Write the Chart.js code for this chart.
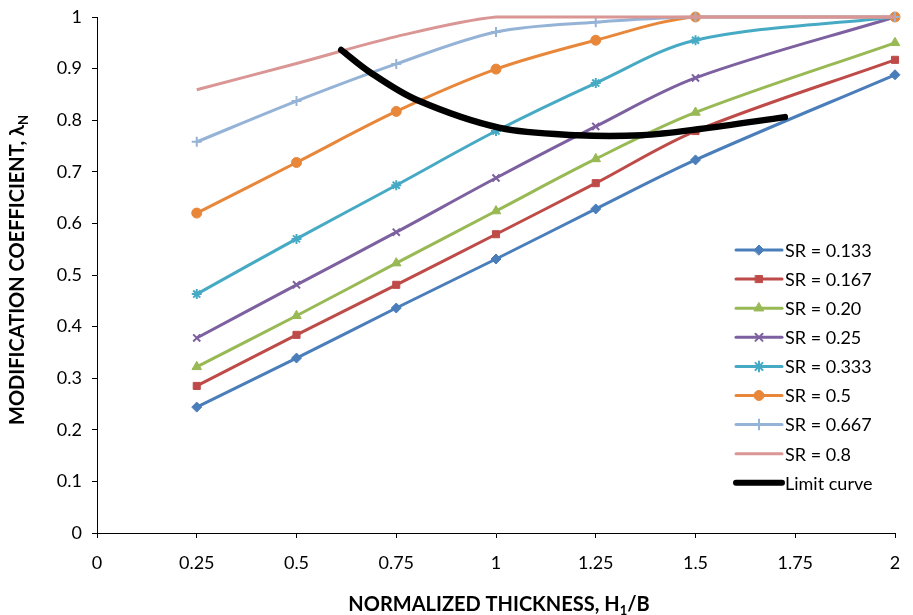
<!DOCTYPE html>
<html>
<head>
<meta charset="utf-8">
<script src="https://cdn.jsdelivr.net/npm/chart.js@4.4.0/dist/chart.umd.min.js"></script>
<style>
  html, body { margin: 0; padding: 0; background: #ffffff; }
  #wrap { width: 913px; height: 615px; }
</style>
</head>
<body>
<div id="wrap"><canvas id="c" width="913" height="615"></canvas></div>
<script>
// Normalized thickness H1/B at which each curve was evaluated
const thickness = [0.25, 0.5, 0.75, 1, 1.25, 1.5, 2];

// Modification coefficient for each stiffness ratio
const sr0133 = [0.244, 0.339, 0.436, 0.531, 0.628, 0.723, 0.888];
const sr0167 = [0.285, 0.384, 0.481, 0.579, 0.678, 0.779, 0.917];
const sr020  = [0.322, 0.421, 0.523, 0.624, 0.725, 0.815, 0.950];
const sr025  = [0.378, 0.481, 0.583, 0.688, 0.788, 0.882, 1.000];
const sr0333 = [0.463, 0.570, 0.674, 0.779, 0.872, 0.955, 1.000];
const sr05   = [0.620, 0.718, 0.817, 0.899, 0.955, 1.000, 1.000];
const sr0667 = [0.758, 0.837, 0.909, 0.971, 0.990, 1.000, 1.000];
const sr08   = [0.859, 0.910, 0.962, 1.000, 1.000, 1.000, 1.000];

// Limit curve through the crossings with the SR curves
const limitX = [0.612, 0.684, 0.802, 1.010, 1.203, 1.366, 1.511, 1.724];
const limitY = [0.936, 0.893, 0.839, 0.785, 0.771, 0.771, 0.783, 0.806];

const seriesLabels = ['SR = 0.133', 'SR = 0.167', 'SR = 0.20', 'SR = 0.25',
                      'SR = 0.333', 'SR = 0.5', 'SR = 0.667', 'SR = 0.8', 'Limit curve'];

// Axis ticks
const xTickStep = 0.25, xMin = 0, xMax = 2;
const yTickStep = 0.1,  yMin = 0, yMax = 1;

const FONT = 'Lato, "Open Sans", sans-serif';

function pts(xs, ys) { return xs.map((x, i) => ({ x: x, y: ys[i] })); }
function tickText(v) { return String(Number(v.toFixed(2))); }

const styles = [
  { color: '#4A7EBB', pointStyle: 'rectRot',  radius: 5,   bw: 1 },
  { color: '#BE4B48', pointStyle: 'rect',     radius: 5,   bw: 1 },
  { color: '#98B954', pointStyle: 'triangle', radius: 5.5, bw: 1 },
  { color: '#7D60A0', pointStyle: 'crossRot', radius: 5,   bw: 2 },
  { color: '#46AAC5', pointStyle: 'star',     radius: 5,   bw: 2 },
  { color: '#E8873A', pointStyle: 'circle',   radius: 5,   bw: 1 },
  { color: '#95B3D7', pointStyle: 'cross',    radius: 5,   bw: 2 },
  { color: '#D99694', pointStyle: false,      radius: 0,   bw: 0 },
  { color: '#000000', pointStyle: false,      radius: 0,   bw: 0 }
];

const seriesValues = [sr0133, sr0167, sr020, sr025, sr0333, sr05, sr0667, sr08];

const datasets = seriesValues.map((vals, i) => ({
  label: seriesLabels[i],
  data: pts(thickness, vals),
  borderColor: styles[i].color,
  backgroundColor: styles[i].color,
  borderWidth: 3,
  pointStyle: styles[i].pointStyle,
  pointRadius: styles[i].radius,
  pointBorderWidth: styles[i].bw,
  pointBackgroundColor: styles[i].color,
  pointBorderColor: styles[i].color,
  tension: 0.33,
  clip: false,
  order: seriesLabels.length - i
}));

datasets.push({
  label: seriesLabels[8],
  data: pts(limitX, limitY),
  borderColor: '#000000',
  backgroundColor: '#000000',
  borderWidth: 6.5,
  pointRadius: 0,
  tension: 0.33,
  borderCapStyle: 'round',
  clip: false,
  order: 0
});

// Axis titles with subscripts
const axisTitles = {
  id: 'axisTitles',
  afterDraw(chart) {
    const ctx = chart.ctx;
    const big = 'bold 20px ' + FONT;
    const sub = 'bold 13px ' + FONT;
    ctx.save();
    ctx.fillStyle = '#000';
    ctx.textBaseline = 'alphabetic';

    // x title
    const xa = 'NORMALIZED THICKNESS, H', xb = '1', xc = '/B';
    ctx.font = big; const wa = ctx.measureText(xa).width, wc = ctx.measureText(xc).width;
    ctx.font = sub; const wb = ctx.measureText(xb).width;
    let x0 = 499 - (wa + wb + wc) / 2;
    ctx.font = big; ctx.fillText(xa, x0, 611);
    ctx.font = sub; ctx.fillText(xb, x0 + wa, 615);
    ctx.font = big; ctx.fillText(xc, x0 + wa + wb, 611);

    // y title
    const ya = 'MODIFICATION COEFFICIENT, \u03BB', yb = 'N';
    ctx.font = big; const ha = ctx.measureText(ya).width;
    ctx.font = sub; const hb = ctx.measureText(yb).width;
    ctx.translate(24, 270);
    ctx.rotate(-Math.PI / 2);
    const y0 = -(ha + hb) / 2;
    ctx.font = big; ctx.fillText(ya, y0, 0);
    ctx.font = sub; ctx.fillText(yb, y0 + ha, 4);
    ctx.restore();
  }
};

// Legend box at the lower right of the plot
const sideLegend = {
  id: 'sideLegend',
  afterDraw(chart) {
    const ctx = chart.ctx;
    const x1 = 736, x2 = 782, tx = 785, top = 250, step = 29.1;
    ctx.save();
    chart.data.datasets.forEach((ds, i) => {
      const y = top + i * step;
      ctx.strokeStyle = ds.borderColor;
      ctx.lineWidth = i === 8 ? 6 : 3;
      ctx.lineCap = 'round';
      ctx.beginPath(); ctx.moveTo(x1, y); ctx.lineTo(x2, y); ctx.stroke();
      const st = styles[i];
      if (st.pointStyle) {
        ctx.fillStyle = st.color; ctx.strokeStyle = st.color; ctx.lineWidth = st.bw;
        Chart.helpers.drawPoint(ctx, { pointStyle: st.pointStyle, radius: st.radius, rotation: 0, borderWidth: st.bw }, (x1 + x2) / 2, y);
      }
      ctx.fillStyle = '#000';
      ctx.font = '18px ' + FONT;
      ctx.textBaseline = 'middle';
      ctx.fillText(ds.label, tx, y + 1);
    });
    ctx.restore();
  }
};

function noOverhang(s) {
  s.paddingTop = 0; s.paddingBottom = 0; s.paddingLeft = 0; s.paddingRight = 0;
}

new Chart(document.getElementById('c'), {
  type: 'line',
  data: { datasets: datasets },
  plugins: [axisTitles, sideLegend],
  options: {
    responsive: false,
    animation: false,
    devicePixelRatio: 1,
    layout: { padding: { left: 0, right: 18, top: 17, bottom: 0 } },
    plugins: { legend: { display: false }, tooltip: { enabled: false } },
    elements: { line: { fill: false } },
    scales: {
      x: {
        type: 'linear', min: xMin, max: xMax,
        ticks: { stepSize: xTickStep, color: '#000', font: { family: FONT, size: 18 }, padding: 14, maxRotation: 0,
                 callback: tickText },
        grid: { drawOnChartArea: false, drawTicks: true, tickLength: 5, color: '#000', lineWidth: 1 },
        border: { color: '#000', width: 1 },
        afterFit(s) { s.height = 82; noOverhang(s); }
      },
      y: {
        type: 'linear', min: yMin, max: yMax,
        ticks: { stepSize: yTickStep, color: '#000', font: { family: FONT, size: 18 }, padding: 10,
                 callback: tickText },
        grid: { drawOnChartArea: false, drawTicks: true, tickLength: 5, color: '#000', lineWidth: 1 },
        border: { color: '#000', width: 1 },
        afterFit(s) { s.width = 97; noOverhang(s); }
      }
    }
  }
});
</script>
</body>
</html>
